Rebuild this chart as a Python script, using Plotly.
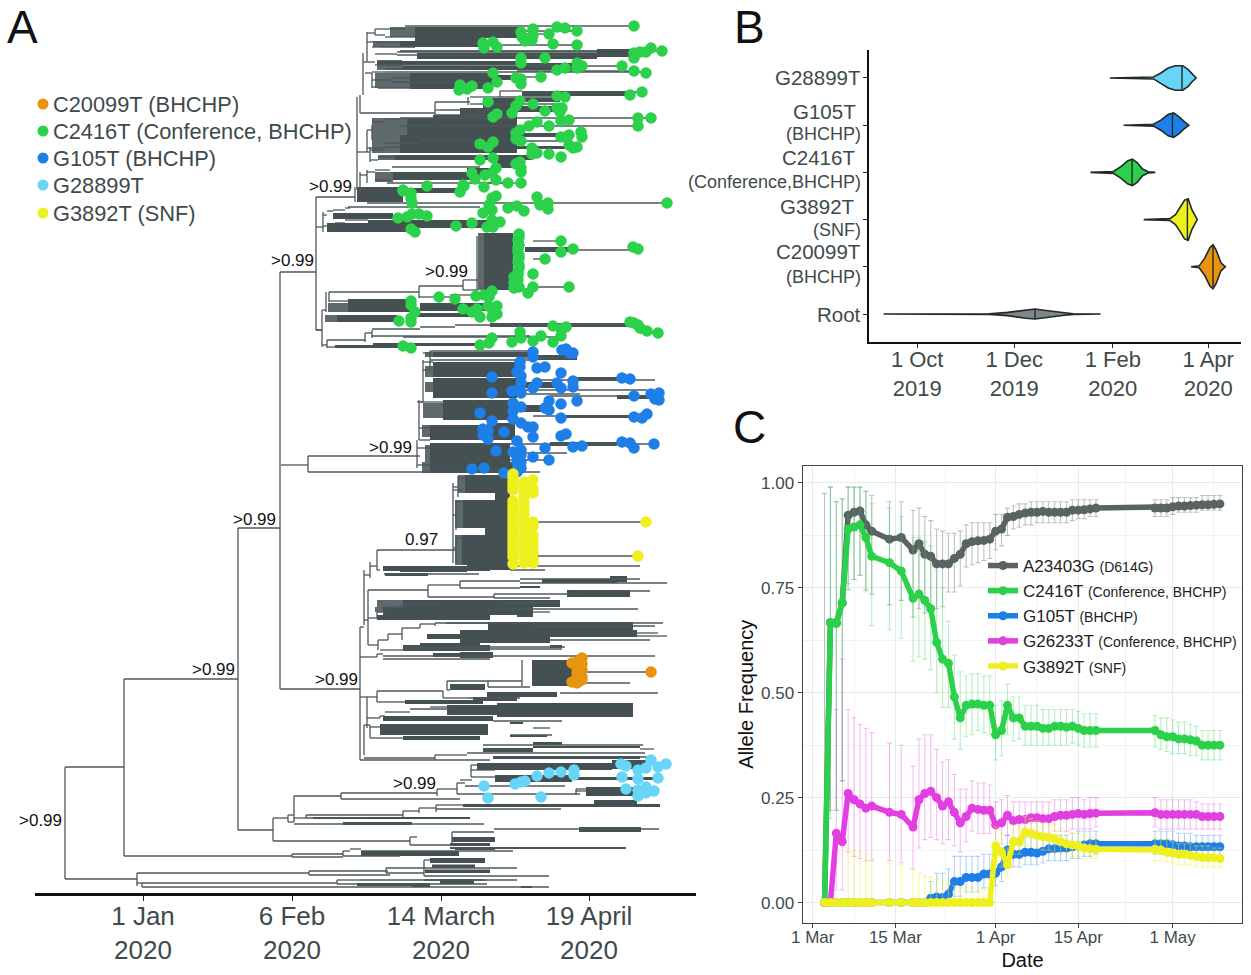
import plotly.graph_objects as go

FONT = "Liberation Sans"
INK = "#3e4a4b"
TREE_LINE = "#4d5759"
TREE_FILL = "#455052"
TREE_FAN = "#5f6a6c"

ORANGE = "#e8940f"
GREEN = "#2bd14a"
BLUE = "#1f7fe8"
CYAN = "#66d5f7"
YELLOW = "#eef01e"
MAGENTA = "#e23fe0"
GREY = "#596363"

# ---- panel A: tree, x = steps along the date axis (about 6 h each), y = tip row
tree_tick_pos = [43, 192, 341, 489]
tree_tick_text = ["1 Jan<br>2020", "6 Feb<br>2020", "14 March<br>2020", "19 April<br>2020"]

h_start = [-35, -35, 24, 24, 138, 138, 180, 180, 216, 216, 181, 208, 208,
           37, 37, 42, 42, 237, 237, 260, 209, 209, 286, 286, 324, 324, 324, 324, 324,
           192, 192, 243, 250, 261, 243, 350,
           173, 310, 310, 173, 188, 194, 241, 241, 337, 357, 360, 357, 476, 476, 371, 371, 371, 365,
           188, 194, 206, 206, 303, 319, 336, 336, 194, 352, 394,
           260, 264, 268, 328, 360, 420, 420, 360, 328, 394, 394, 480,
           268, 277, 285, 300, 310, 400, 400, 433,
           268, 278, 288, 302, 320, 335, 346, 433, 533, 537, 450, 280, 303, 303,
           260, 277, 283, 283,
           347, 388, 388, 347, 277, 343, 367, 277, 460, 473, 482,
           260, 267, 267, 280, 285, 310, 330, 264, 270, 264, 335, 367, 393, 260, 393, 433, 410,
           270, 285, 540, 383,
           277, 270, 264, 277, 410, 410, 433, 433, 284, 353, 353, 358, 353, 356, 353, 356,
           317, 323, 323, 330, 330, 323, 317, 319, 417, 440, 400, 450, 420, 433, 370, 415, 410, 372, 380,
           320, 319, 317, 317,
           267, 275, 305, 275, 285, 267, 272, 272, 280, 263, 275, 297, 297, 275, 278,
           265, 272, 285, 285, 272, 292, 292, 272, 278, 415, 421, 421, 397, 417, 530, 417,
           260, 335, 370, 400, 422, 400, 370, 378, 335, 340, 335,
           267, 272, 285, 300, 300, 267, 285, 320, 257, 270, 285, 270, 278, 417,
           260, 267, 275, 275, 292, 287, 380, 400,
           223, 227, 233, 245, 248, 267, 216, 223, 235, 245,
           222, 229, 229, 319, 319, 363, 363, 350, 216,
           222, 227, 265, 272, 320, 272, 303, 355, 540, 540, 227,
           433, 433, 433, 433]
h_end = [37, 24, 138, 192, 180, 173, 216, 260, 255, 222, 208, 318, 440,
         209, 42, 237, 449, 260, 330, 385, 288, 290, 324, 324, 330, 417, 449, 417, 387,
         243, 243, 250, 261, 413, 300, 526,
         310, 317, 352, 188, 194, 241, 337, 360, 357, 365, 372, 480, 486, 486, 377, 395, 395, 465,
         194, 206, 303, 270, 319, 336, 363, 461, 384, 394, 559,
         264, 268, 328, 360, 420, 540, 567, 420, 394, 480, 450, 550,
         277, 285, 300, 310, 340, 538, 460, 450,
         278, 288, 302, 320, 335, 388, 563, 555, 558, 567, 550, 303, 462, 465,
         277, 283, 555, 390,
         388, 422, 430, 350, 343, 367, 420, 305, 558, 530, 551,
         267, 277, 280, 285, 310, 350, 347, 270, 280, 335, 367, 545, 547, 390, 462, 450, 452,
         285, 303, 554, 543,
         355, 277, 270, 280, 540, 445, 546, 538, 379, 362, 358, 365, 356, 363, 356, 362,
         320, 333, 330, 435, 433, 330, 323, 330, 477, 555, 547, 557, 480, 540, 554, 467, 449, 420, 420,
         345, 330, 330, 330,
         275, 305, 534, 285, 315, 272, 300, 280, 315, 275, 297, 497, 530, 278, 480,
         272, 285, 370, 546, 292, 310, 400, 278, 315, 441, 477, 449, 477, 534, 562, 522,
         335, 370, 400, 422, 542, 460, 378, 465, 340, 445, 390,
         272, 285, 300, 551, 538, 285, 320, 400, 270, 285, 300, 278, 295, 469,
         267, 275, 290, 290, 380, 400, 408, 421,
         227, 233, 245, 250, 380, 567, 223, 235, 245, 268,
         226, 319, 250, 363, 350, 378, 378, 377, 222,
         227, 265, 272, 320, 355, 430, 460, 540, 558, 547, 235,
         461, 533, 445, 469]
h_row = [879, 767, 679, 856, 528, 830, 272, 689, 197, 330, 465, 456, 472,
         873, 883, 883, 887, 880, 884, 880, 871, 875, 868, 873, 860, 868, 876, 880, 884,
         854, 857, 851, 849, 851, 856, 848,
         841, 837, 845, 818, 815, 796, 793, 799, 789, 783, 780, 794, 789, 791, 765, 770, 777, 786,
         822, 818, 815, 818, 811, 808, 805, 809, 824, 832, 829,
         627, 620, 590, 585, 581, 579, 583, 588, 597, 594, 598, 591,
         618, 612, 607, 605, 604, 609, 603, 612,
         645, 640, 634, 628, 624, 623, 623, 626, 633, 636, 640, 650, 649, 647,
         657, 654, 656, 659,
         681, 681, 687, 690, 691, 698, 698, 702, 693, 683, 672,
         697, 697, 718, 716, 712, 709, 707, 725, 727, 758, 755, 753, 757, 760, 721, 728, 735,
         738, 738, 749, 745,
         550, 566, 575, 570, 566, 570, 522, 556, 574, 490, 487, 478, 515, 502, 548, 538,
         456, 362, 353, 351, 360, 370, 402, 440, 358, 380, 390, 396, 394, 416, 444, 453, 460, 469, 437,
         402, 428, 448, 465,
         33, 29, 26, 35, 37, 42, 42, 47, 47, 62, 54, 52, 55, 65, 65,
         73, 72, 69, 72, 80, 78, 82, 87, 88, 77, 31, 34, 45, 71, 51, 66,
         113, 102, 97, 91, 92, 97, 104, 104, 110, 110, 115,
         130, 122, 119, 118, 126, 148, 143, 140, 152, 150, 147, 160, 157, 141,
         175, 172, 170, 180, 167, 183, 183, 183,
         215, 211, 210, 208, 207, 203, 227, 226, 223, 220,
         310, 292, 301, 286, 297, 280, 290, 295, 330,
         345, 340, 333, 329, 327, 336, 337, 325, 333, 331, 347,
         241, 250, 259, 287]

v_pos = [-35, 24, 138, 180, 216, 255, 257, 260, 263, 267, 272, 275,
         37, 42, 237, 209, 286, 324, 192, 243,
         173, 310, 188, 194, 241, 337, 357, 371, 476, 206, 303, 319, 336, 352,
         260, 264, 268, 328, 360, 394,
         277, 278, 288, 302, 320, 335, 277,
         388, 347, 422, 343, 277, 267, 280, 264, 270, 335,
         208, 323, 319, 317, 330,
         277, 353, 358, 356, 356, 270,
         335, 368, 400, 272, 267, 270, 267, 260,
         223, 222, 226, 229, 319, 363, 377, 227, 265, 272]
v_top = [767, 679, 528, 272, 197, 187, 97, 95, 53, 32, 73, 29,
         873, 883, 880, 871, 868, 860, 854, 851,
         818, 837, 815, 796, 793, 789, 783, 765, 789, 815, 811, 808, 805, 832,
         627, 570, 590, 585, 581, 594,
         612, 640, 634, 628, 624, 623, 654,
         681, 681, 660, 691, 691, 697, 716, 725, 725, 755,
         456, 360, 400, 440, 351,
         550, 483, 476, 500, 535, 562,
         102, 97, 91, 125, 130, 147, 170, 172,
         212, 310, 292, 292, 286, 280, 236, 340, 333, 330]
v_bottom = [879, 856, 830, 689, 330, 202, 190, 113, 95, 62, 88, 35,
            886, 887, 884, 875, 873, 876, 857, 856,
            841, 845, 822, 822, 799, 796, 794, 777, 795, 818, 818, 813, 812, 845,
            760, 625, 645, 597, 588, 598,
            618, 650, 640, 640, 628, 626, 657,
            687, 690, 686, 698, 702, 728, 718, 755, 738, 760,
            472, 402, 440, 468, 370,
            570, 563, 497, 530, 563, 578,
            125, 105, 97, 140, 152, 162, 183, 190,
            232, 347, 312, 302, 298, 290, 290, 348, 342, 338]

# dense clades, drawn as solid runs of tips
block_start = [315, 300, 497, 317, 277, 417, 302, 310, 393,
               422, 383, 383, 307, 333, 300, 417, 390, 295, 397,
               293, 367, 257, 303, 233, 268, 227, 384, 425, 248, 320, 237, 310, 390, 235, 273,
               333, 433, 333, 333, 421, 473, 517, 343, 420, 463, 330, 330, 450, 330,
               365, 363, 362, 300, 367, 395, 385,
               283, 285, 442, 510, 420, 467, 303, 283, 277, 417, 388, 360, 360, 303, 450, 360, 333,
               432, 350, 387, 373, 305, 347, 397, 283, 280, 410, 303, 410, 433, 383, 433, 393,
               377, 512, 395, 472, 486, 494, 363, 461, 213, 243, 352, 350, 355, 479, 261, 350, 330, 332, 325, 257, 312, 340, 421,
               360, 383, 333, 387,
               333, 333, 343, 343, 330, 387, 330, 283, 327, 320, 315]
block_end = [418, 383, 530, 497, 417, 477, 477, 393, 416,
             527, 460, 457, 417, 390, 417, 457, 470, 433, 417,
             370, 397, 303, 360, 293, 387, 307, 413, 473, 310, 387, 297, 383, 527, 300, 377,
             430, 477, 417, 417, 457, 517, 557, 413, 447, 533, 387, 410, 517, 413,
             410, 410, 410, 367, 410, 410, 410,
             390, 328, 517, 527, 440, 530, 460, 417, 390, 433, 533, 537, 450, 390, 462, 393, 360,
             473, 385, 457, 417, 383, 397, 533, 393, 388, 423, 380, 447, 462, 433, 540, 540,
             512, 548, 472, 559, 537, 537, 461, 560, 370, 312, 395, 390, 395, 541, 359, 526, 385, 375, 390, 330, 330, 374, 432,
             417, 417, 417, 415,
             417, 417, 413, 413, 415, 415, 410, 417, 360, 380, 383]
block_top = [27, 41, 49, 53, 61, 63, 66, 73, 75,
             91, 98, 106, 118, 115, 135, 133, 146, 155, 160,
             172, 168, 187, 188, 213, 220, 223, 233, 247, 299, 303, 315, 313, 323, 345, 343,
             352, 355, 366, 382, 382, 377, 395, 403, 405, 415, 425, 445, 442, 462,
             475, 500, 535, 567, 565, 493, 528,
             566, 573, 579, 576, 586, 590, 600, 607, 615, 607, 622, 630, 637, 645, 645, 652, 653,
             660, 684, 692, 697, 700, 705, 703, 716, 724, 722, 736, 735, 742, 748, 746, 756,
             763, 760, 775, 777, 787, 800, 804, 804, 817, 822, 837, 843, 847, 827, 851, 847, 858, 864.5, 869.5, 883, 883, 879, 886,
             108, 98, 378, 423,
             362, 392, 400, 418, 437, 432, 443, 612, 634, 643, 38]
block_bottom = [38, 47, 57, 59, 65, 67, 70, 89, 80,
                96, 102, 112, 135, 120, 153, 137, 149, 160, 168,
                180, 176, 202, 193, 219, 228, 232, 290, 252, 312, 311, 322, 317, 327, 348, 346,
                357, 360, 377, 392, 388, 381, 399, 418, 412, 418, 437, 462, 446, 473,
                493, 528, 565, 572, 570, 500, 535,
                571, 576, 583, 582, 588, 597, 607, 612, 620, 617, 632, 637, 643, 651, 648, 658, 657,
                686, 690, 697, 701, 704, 715, 717, 721, 735, 724, 740, 737, 745, 752, 748, 759,
                770, 769, 782, 780, 796, 804, 807, 807, 819, 825, 842, 846, 850, 832, 856, 849, 863, 868, 873, 886, 887, 884, 888,
                118, 108, 382, 432,
                366, 398, 403, 420, 440, 437, 445, 615, 639, 645, 41]

# left edges of the clades, where tips fan out and white shows between them
fan_start = [290, 273, 277, 275, 272, 272, 278, 275, 228, 225, 325, 325, 325, 323, 322, 325, 322,
             358, 355, 355, 277, 275, 378, 300]
fan_end = [315, 300, 302, 310, 307, 300, 295, 293, 248, 237, 333, 333, 333, 343, 330, 330, 330,
           365, 363, 362, 303, 283, 384, 497]
fan_top = [27, 41, 60, 73, 118, 135, 155, 172, 303, 315, 352, 366, 382, 403, 425, 445, 462,
           475, 500, 535, 600, 607, 233, 50]
fan_bottom = [37, 47, 70, 88, 135, 153, 160, 182, 312, 322, 357, 377, 392, 418, 437, 462, 473,
              493, 528, 565, 607, 612, 290, 52]

green_pos = [534, 457, 465, 477, 449, 421, 422, 425, 433, 433, 432,
             453, 477, 383, 384, 393, 397,
             562, 551, 546, 540, 534, 534,
             421, 421, 445, 522, 477, 482, 477, 457, 465, 534, 546,
             393, 397, 441, 416, 421, 421,
             360, 359, 367, 372, 388,
             542, 530, 457, 465, 388, 420, 416, 433, 445, 457, 462, 460, 412, 397, 393,
             538, 551, 538, 461, 469, 449, 437, 429, 420, 416,
             481, 482, 469, 461, 416, 421, 380, 393, 388,
             469, 477, 473, 432, 432, 437, 449, 461, 380, 393,
             420, 416, 421, 421,
             396, 392, 372, 385, 375, 396, 408, 421, 363, 384, 303, 327,
             303, 311, 311, 312, 360, 364,
             392, 396, 389, 383, 392, 437, 440, 448, 448, 408, 417, 424, 567,
             298, 307, 312, 319, 327, 400, 392, 372, 356, 387, 393, 311, 315,
             419, 418, 419, 418, 419, 419, 418, 414, 418, 414, 419, 419, 418, 419, 418, 419, 418, 414,
             461, 461, 473, 533, 538, 445, 433, 433, 428, 469,
             339, 355, 376, 384, 392, 389,
             311, 311, 315, 311, 311, 299,
             363, 372, 377, 380, 388, 397, 393, 392, 397,
             530, 534, 538, 540, 547, 558, 453, 461, 466, 461, 420, 421, 441, 433, 412, 453, 392, 389, 380, 303, 311]
green_row = [26, 27, 28, 31, 34, 32, 37, 41, 29, 35, 40,
             44, 45, 43, 48, 42, 47,
             51, 48, 52, 52, 53, 58,
             58, 63, 58, 66, 63, 66, 68, 70, 68, 71, 73,
             73, 82, 77, 78, 79, 84,
             85, 90, 89, 86, 88,
             92, 95, 96, 97, 102, 101, 106, 104, 111, 108, 108, 112, 113, 114, 117,
             118, 118, 126, 121, 120, 126, 122, 126, 130, 133,
             132, 137, 135, 137, 139, 141, 144, 142, 147,
             145, 147, 148, 148, 154, 153, 154, 157, 160, 158,
             162, 164, 168, 172,
             168, 173, 173, 175, 179, 180, 183, 183, 185, 187, 190, 186,
             191, 193, 198, 203, 192, 186,
             198, 196, 205, 213, 210, 197, 205, 203, 209, 208, 206, 211, 203,
             218, 217, 214, 214, 216, 222, 220, 223, 226, 227, 227, 229, 232,
             234, 240, 245, 252, 258, 265, 272, 277, 280, 288, 287, 237, 248, 255, 262, 268, 275, 283,
             241, 252, 249, 247, 249, 259, 274, 287, 293, 287,
             297, 299, 296, 295, 291, 297,
             301, 305, 312, 318, 322, 321,
             309, 312, 309, 317, 306, 306, 312, 317, 314,
             322, 323, 325, 328, 331, 333, 326, 329, 327, 336, 332, 338, 336, 341, 342, 342, 338, 343, 345, 346, 348]

blue_pos = [433, 433, 462, 466, 470, 473,
            420, 420, 417, 421, 437, 445, 461, 392,
            421, 420, 421, 412, 392, 433, 437, 457, 461, 473, 473, 522, 530,
            534, 551, 559, 555, 559, 477, 461, 449, 445, 449,
            413, 421, 413, 380, 461, 534, 542, 547,
            392, 413, 421, 428, 433, 404, 383, 388, 383, 388, 433, 461, 466, 417,
            522, 530, 534, 554, 482, 473, 445, 396, 413, 421, 417, 421, 433, 449, 417, 421, 372, 384, 404, 421, 417]
blue_row = [352, 357, 350, 349, 353, 353,
            362, 367, 372, 376, 368, 367, 373, 377,
            383, 388, 393, 391, 393, 388, 383, 383, 388, 381, 387, 378, 379,
            396, 394, 393, 399, 400, 401, 404, 401, 408, 410,
            403, 407, 411, 413, 418, 417, 418, 414,
            421, 419, 423, 427, 427, 432, 429, 431, 435, 439, 437, 436, 434, 441,
            442, 443, 448, 444, 446, 447, 448, 451, 452, 450, 457, 455, 457, 460, 463, 462, 469, 468, 473, 468, 472]

yellow_pos = [413, 413, 413, 413, 413, 413, 413, 413, 413, 413, 413, 413, 413, 413, 413, 413, 413, 413, 413, 413, 413,
              424, 424, 424, 424, 424, 424, 424, 424, 424, 424, 424, 424, 424, 424, 424,
              433, 433, 433, 433, 433, 433, 433, 433, 433, 433, 433,
              546, 538]
yellow_row = [474, 478, 482, 486, 490, 501, 505, 509, 513, 517, 521, 525, 529, 533, 537, 541, 545, 549, 553, 557, 564,
              482, 487, 492, 497, 503, 509, 515, 521, 527, 533, 539, 545, 551, 557, 563,
              480, 489, 493, 522, 526, 535, 541, 547, 553, 559, 563,
              522, 556]

orange_pos = [482, 477, 472, 482, 477, 482, 477, 482, 477, 472, 477, 482, 551]
orange_row = [658, 662, 663, 664, 668, 670, 673, 677, 678, 682, 683, 680, 672]

cyan_pos = [551, 566, 521, 526, 538, 546, 558, 474, 474, 461, 449, 437, 522, 538, 558,
            425, 421, 415, 384, 526, 538, 546, 554, 546, 538, 388, 441, 542]
cyan_row = [760, 764, 764, 766, 770, 768, 767, 770, 775, 772, 773, 776, 777, 779, 778,
            781, 782, 784, 786, 789, 790, 787, 791, 793, 796, 798, 797, 792]

node_text = [">0.99", ">0.99", ">0.99", ">0.99", ">0.99", "0.97", ">0.99", ">0.99", ">0.99", ">0.99"]
node_pos = [230, 192, 346, 290, 154, 321, 113, 236, 314, -60]
node_row = [186, 260, 271, 447, 519, 539, 669, 679, 783, 820]

mutation_names = ["C20099T (BHCHP)", "C2416T (Conference, BHCHP)", "G105T (BHCHP)", "G28899T", "G3892T (SNF)"]
mutation_colors = [ORANGE, GREEN, BLUE, CYAN, YELLOW]
mutation_key_pos = [-57, -57, -57, -57, -57]
mutation_key_row = [104, 131, 158, 185, 213]

# ---- panel B: dated violins, x = days since 1 Jan 2020
violin_tick_pos = [-92, -31, 31, 91]
violin_tick_text = ["1 Oct<br>2019", "1 Dec<br>2019", "1 Feb<br>2020", "1 Apr<br>2020"]
violin_slots = [5, 4, 3, 2, 1, 0]
violin_colors = [CYAN, BLUE, GREEN, YELLOW, ORANGE, "#7d8888"]
violin_days = [
    [29.1, 56.6, 61.2, 65.8, 70.4, 75.0, 78.4, 80.7, 83.4],
    [37.8, 56.6, 61.2, 65.8, 69.2, 72.7, 76.1, 78.8],
    [16.9, 31.4, 36.0, 40.5, 43.3, 46.3, 49.7, 53.2, 57.7],
    [50.4, 66.9, 70.4, 73.8, 76.1, 78.4, 80.7, 84.1],
    [80.2, 85.3, 88.7, 92.1, 94.0, 96.0, 99.0, 101.8],
    [-113.1, -46.6, -35.1, -23.7, -17.9, -9.9, -0.7, 6.1, 23.3],
]
violin_half = [
    [0, 0.02, 0.106, 0.21, 0.26, 0.26, 0.177, 0.085, 0],
    [0, 0.02, 0.106, 0.226, 0.26, 0.177, 0.07, 0],
    [0, 0.02, 0.12, 0.247, 0.28, 0.21, 0.07, 0.014, 0],
    [0, 0.02, 0.106, 0.28, 0.41, 0.44, 0.21, 0],
    [0, 0.02, 0.177, 0.41, 0.466, 0.353, 0.085, 0],
    [0, 0.007, 0.035, 0.09, 0.106, 0.07, 0.03, 0.007, 0],
]
violin_median = [74.5, 68.5, 43.1, 77.9, 94.0, -17.9]
violin_median_half = [0.25, 0.25, 0.27, 0.43, 0.46, 0.1]

violin_label_text = ["G28899T", "G105T", "(BHCHP)", "C2416T", "(Conference,BHCHP)", "G3892T", "(SNF)", "C20099T", "(BHCHP)", "Root"]
violin_label_y = [5.0, 4.30, 3.81, 3.31, 2.805, 2.27, 1.78, 1.32, 0.784, 0]
violin_label_size = [20.5, 20.5, 18, 20.5, 18, 20.5, 18, 20.5, 18, 20.5]
violin_label_shift = [0, -5, 0, -6, 0, -6, 0, 0, 0, 0]

# ---- panel C: allele frequency, x = days since 1 Mar 2020
freq_tick_pos = [0, 14, 31, 45, 61]
freq_tick_text = ["1 Mar", "15 Mar", "1 Apr", "15 Apr", "1 May"]
freq_days = [2, 3, 4, 5, 6, 7, 8, 9, 10,
             13, 15,
             17, 18, 19, 20, 21, 22, 23, 24, 25, 26, 27, 28, 29, 30, 31, 32,
             33, 34, 35, 36, 37, 38, 39, 40, 41, 42, 43, 44, 45, 46, 47, 48,
             58, 59, 60, 61, 62, 63, 64, 65, 66, 67, 68, 69]

a23403g = [0, .667, .667, .714, .923, .93, .933, .90, .885,
           .866, .87,
           .84, .855, .83, .825, .807, .807, .807, .82, .83, .855, .86, .862, .863, .866, .885, .89,
           .918, .92, .925, .928, .93, .93, .932, .93, .93, .93, .93, .935, .935, .936, .938, .94,
           .94, .94, .94, .943, .945, .945, .946, .947, .948, .948, .949, .95]
a23403g_hi = [.975, .99, .955, .963, .99, .99, .99, .98, .97,
              .955, .955,
              .935, .94, .92, .91, .89, .885, .88, .88, .885, .90, .905, .905, .905, .905, .925, .925,
              .94, .945, .95, .95, .955, .955, .955, .955, .955, .955, .955, .96, .96, .96, .96, .96,
              .96, .96, .96, .965, .965, .965, .965, .965, .97, .97, .97, .97]
a23403g_lo = [0, .22, .22, .29, .745, .77, .78, .745, .735,
              .71, .72,
              .68, .70, .69, .70, .70, .705, .74, .74, .755, .80, .805, .81, .815, .82, .84, .85,
              .875, .89, .895, .90, .90, .905, .905, .905, .905, .905, .905, .91, .915, .915, .92, .92,
              .92, .92, .92, .925, .93, .93, .93, .93, .935, .935, .935, .935]

c2416t = [0, .667, .665, .714, .89, .895, .90, .87, .825,
          .81, .79,
          .725, .735, .72, .70, .62, .58, .57, .49, .44, .47, .473, .473, .47, .47, .40, .41,
          .47, .44, .44, .42, .42, .42, .415, .415, .42, .42, .418, .42, .415, .41, .41, .41,
          .41, .40, .395, .395, .39, .39, .388, .385, .375, .375, .375, .375]
c2416t_hi = [0, .99, .955, .96, .99, .99, .99, .98, .95,
             .94, .92,
             .87, .87, .86, .85, .79, .75, .67, .59, .55, .54, .545, .545, .54, .54, .47, .48,
             .52, .49, .49, .47, .47, .47, .46, .46, .46, .46, .46, .46, .455, .45, .45, .45,
             .445, .44, .44, .435, .43, .43, .425, .42, .41, .41, .41, .41]
c2416t_lo = [0, .20, .22, .29, .76, .77, .78, .74, .66,
             .65, .63,
             .575, .585, .58, .555, .50, .465, .465, .39, .365, .395, .40, .41, .405, .40, .34, .35,
             .40, .385, .39, .375, .375, .375, .375, .375, .375, .375, .375, .38, .375, .37, .37, .37,
             .37, .365, .36, .355, .355, .355, .35, .35, .34, .34, .34, .34]

g105t = [0, 0, 0, 0, 0, 0, 0, 0, 0,
         0, 0,
         0, 0, 0, .01, .013, .012, .02, .05, .05, .06, .06, .06, .068, .068, .07, .085,
         .125, .115, .115, .12, .12, .118, .122, .128, .128, .13, .13, .133, .135, .137, .14, .14,
         .14, .14, .14, .138, .135, .135, .133, .133, .133, .133, .133, .133]
g105t_hi = [0, 0, 0, 0, 0, 0, 0, 0, 0,
            0, 0,
            0, 0, 0, .05, .07, .07, .08, .11, .11, .11, .11, .11, .115, .115, .115, .13,
            .16, .15, .15, .155, .155, .155, .155, .16, .16, .16, .16, .165, .17, .17, .17, .17,
            .17, .17, .17, .17, .165, .165, .165, .16, .16, .16, .16, .16]
g105t_lo = [0, 0, 0, 0, 0, 0, 0, 0, 0,
            0, 0,
            0, 0, 0, 0, 0, 0, 0, .015, .015, .025, .025, .025, .035, .035, .04, .05,
            .09, .085, .085, .09, .09, .09, .095, .10, .10, .10, .10, .105, .105, .11, .11, .115,
            .115, .115, .115, .11, .11, .11, .105, .105, .105, .105, .105, .105]

g26233t = [0, 0, .165, .145, .26, .245, .235, .225, .23,
           .215, .21,
           .18, .245, .26, .265, .25, .23, .24, .215, .19, .205, .225, .222, .22, .22, .185, .19,
           .208, .195, .198, .198, .202, .202, .20, .20, .205, .208, .208, .21, .212, .21, .212, .213,
           .214, .21, .21, .21, .21, .21, .21, .21, .205, .205, .205, .205]
g26233t_hi = [0, 0, .46, .58, .46, .44, .425, .415, .405,
              .38, .375,
              .325, .39, .40, .40, .365, .335, .34, .305, .27, .27, .29, .285, .285, .28, .24, .245,
              .255, .24, .24, .24, .24, .24, .24, .24, .245, .245, .245, .25, .25, .245, .25, .25,
              .25, .245, .245, .245, .245, .245, .245, .24, .235, .235, .235, .235]
g26233t_lo = [0, 0, .03, .03, .12, .11, .105, .10, .10,
              .10, .095,
              .08, .13, .15, .155, .15, .14, .15, .135, .12, .145, .17, .165, .165, .165, .135, .14,
              .16, .155, .155, .16, .165, .165, .165, .165, .17, .17, .17, .175, .175, .175, .175, .18,
              .18, .175, .175, .175, .175, .175, .175, .175, .175, .175, .175, .175]

g3892t = [0, 0, 0, 0, 0, 0, 0, 0, 0,
          0, 0,
          0, 0, 0, 0, 0, 0, 0, 0, 0, 0, 0, 0, 0, 0, .135, .12,
          .09, .145, .145, .168, .165, .16, .157, .155, .152, .145, .14, .137, .135, .13, .128, .127,
          .127, .125, .12, .118, .115, .115, .112, .11, .108, .107, .107, .105]
g3892t_hi = [0, 0, 0, 0, .13, .125, .12, .115, .105,
             .095, .09,
             .08, .07, .065, .06, .055, .05, .045, .04, .035, .035, .035, .03, .03, .03, .18, .165,
             .13, .185, .185, .205, .20, .195, .19, .185, .185, .175, .17, .165, .165, .16, .155, .155,
             .155, .15, .15, .145, .14, .14, .14, .135, .135, .135, .13, .13]
g3892t_lo = [0, 0, 0, 0, 0, 0, 0, 0, 0,
             0, 0,
             0, 0, 0, 0, 0, 0, 0, 0, 0, 0, 0, 0, 0, 0, .10, .085,
             .06, .115, .115, .135, .135, .13, .125, .125, .12, .115, .115, .11, .11, .105, .105, .105,
             .10, .10, .098, .095, .09, .09, .09, .085, .085, .085, .085, .085]

freq_series = [
    ('A23403G <span style="font-size:14px">(D614G)</span>', a23403g, a23403g_hi, a23403g_lo, GREY, "rgba(89,99,99,0.40)"),
    ('C2416T <span style="font-size:14px">(Conference, BHCHP)</span>', c2416t, c2416t_hi, c2416t_lo, GREEN, "rgba(43,209,74,0.35)"),
    ('G105T <span style="font-size:14px">(BHCHP)</span>', g105t, g105t_hi, g105t_lo, BLUE, "rgba(31,127,232,0.35)"),
    ('G26233T <span style="font-size:14px">(Conference, BHCHP)</span>', g26233t, g26233t_hi, g26233t_lo, MAGENTA, "rgba(226,63,224,0.35)"),
    ('G3892T <span style="font-size:14px">(SNF)</span>', g3892t, g3892t_hi, g3892t_lo, YELLOW, "rgba(238,240,30,0.45)"),
]

for a, b in [(h_start, h_end), (h_start, h_row), (v_pos, v_top), (v_pos, v_bottom),
             (block_start, block_end), (block_start, block_top), (block_start, block_bottom),
             (fan_start, fan_end), (fan_start, fan_top), (fan_start, fan_bottom),
             (green_pos, green_row), (blue_pos, blue_row), (yellow_pos, yellow_row),
             (orange_pos, orange_row), (cyan_pos, cyan_row)]:
    assert len(a) == len(b), (len(a), len(b))
for s in freq_series:
    assert len(s[1]) == len(s[2]) == len(s[3]) == len(freq_days), s[0]

WIDTH, HEIGHT = 1251, 975


def xdom(left, right):
    return [left / WIDTH, right / WIDTH]


def ydom(top, bottom):
    return [1 - bottom / HEIGHT, 1 - top / HEIGHT]


fig = go.Figure()

# tree branches
line_x, line_y = [], []
for start, end, row in zip(h_start, h_end, h_row):
    line_x += [start, end, None]
    line_y += [row, row, None]
for pos, top, bottom in zip(v_pos, v_top, v_bottom):
    line_x += [pos, pos, None]
    line_y += [top, bottom, None]
fig.add_trace(go.Scatter(x=line_x, y=line_y, mode="lines", showlegend=False,
                         line=dict(color=TREE_LINE, width=1.3), hoverinfo="skip"))

for starts, ends, tops, bottoms, colour in [(fan_start, fan_end, fan_top, fan_bottom, TREE_FAN),
                                            (block_start, block_end, block_top, block_bottom, TREE_FILL)]:
    fig.add_trace(go.Bar(
        base=starts,
        x=[e - s for s, e in zip(starts, ends)],
        y=[(t + b) / 2 for t, b in zip(tops, bottoms)],
        width=[b - t for t, b in zip(tops, bottoms)],
        orientation="h",
        marker=dict(color=colour, line_width=0),
        showlegend=False,
        hoverinfo="skip",
    ))

for xs, ys, colour in [(green_pos, green_row, GREEN), (blue_pos, blue_row, BLUE),
                       (cyan_pos, cyan_row, CYAN), (orange_pos, orange_row, ORANGE),
                       (yellow_pos, yellow_row, YELLOW)]:
    fig.add_trace(go.Scatter(x=xs, y=ys, mode="markers", showlegend=False,
                             marker=dict(color=colour, size=11.5), hoverinfo="skip"))

fig.add_trace(go.Scatter(x=mutation_key_pos, y=mutation_key_row, mode="markers", showlegend=False,
                         marker=dict(color=mutation_colors, size=11), hoverinfo="skip"))

# violins
for slot, colour, days, half, med, med_half in zip(violin_slots, violin_colors, violin_days,
                                                   violin_half, violin_median, violin_median_half):
    upper = [slot + h for h in half]
    lower = [slot - h for h in half]
    fig.add_trace(go.Scatter(x=days + days[::-1], y=upper + lower[::-1], mode="lines", fill="toself",
                             fillcolor=colour, line=dict(color="#20292a", width=1.6), showlegend=False,
                             xaxis="x2", yaxis="y2", hoverinfo="skip"))
    fig.add_trace(go.Scatter(x=[med, med], y=[slot - med_half, slot + med_half], mode="lines",
                             line=dict(color="#20292a", width=1.4), showlegend=False,
                             xaxis="x2", yaxis="y2", hoverinfo="skip"))

# allele frequency lines
for name, values, hi, lo, colour, bar_colour in freq_series:
    fig.add_trace(go.Scatter(
        x=freq_days, y=values, mode="lines+markers", name=name,
        line=dict(color=colour, width=5.5),
        marker=dict(color=colour, size=9),
        error_y=dict(type="data", symmetric=False,
                     array=[h - v for h, v in zip(hi, values)],
                     arrayminus=[v - l for v, l in zip(values, lo)],
                     color=bar_colour, thickness=1.1, width=2.5),
        xaxis="x3", yaxis="y3", hoverinfo="skip",
    ))

annotations = []
for text, x, y in [("A", 22, 27), ("B", 749, 27), ("C", 749, 427)]:
    annotations.append(dict(text=text, xref="paper", yref="paper", x=x / WIDTH, y=1 - y / HEIGHT,
                            showarrow=False, font=dict(size=46, color="#111", family=FONT),
                            xanchor="center", yanchor="middle"))
for text, pos, row in zip(node_text, node_pos, node_row):
    annotations.append(dict(text=text, x=pos, y=row, xref="x", yref="y", showarrow=False,
                            font=dict(size=17, color="#111", family=FONT)))
for text, pos, row in zip(mutation_names, mutation_key_pos, mutation_key_row):
    annotations.append(dict(text=text, x=pos + 7.5, y=row, xref="x", yref="y", showarrow=False,
                            xanchor="left", font=dict(size=21.8, color=INK, family=FONT)))
for text, y, size, shift in zip(violin_label_text, violin_label_y, violin_label_size, violin_label_shift):
    annotations.append(dict(text=text, x=863 / WIDTH, y=y, xref="paper", yref="y2", showarrow=False,
                            xanchor="right", xshift=shift, font=dict(size=size, color=INK, family=FONT)))

fig.update_layout(
    width=WIDTH,
    height=HEIGHT,
    margin=dict(l=0, r=0, t=0, b=0),
    paper_bgcolor="white",
    plot_bgcolor="white",
    barmode="overlay",
    font=dict(family=FONT, color=INK),
    annotations=annotations,
    legend=dict(x=983 / WIDTH, y=1 - 548 / HEIGHT, xanchor="left", yanchor="top",
                bgcolor="rgba(0,0,0,0)", font=dict(size=17, color="#222", family=FONT),
                tracegroupgap=0),
    xaxis=dict(domain=xdom(35, 696), range=[-65, 596], anchor="y", showgrid=False, zeroline=False,
               automargin=False,
               tickvals=tree_tick_pos, ticktext=tree_tick_text, ticks="outside", ticklen=5, tickwidth=1.3,
               ticklabelstandoff=-7,
               tickcolor="#222", showline=True, linecolor="#111", linewidth=2.5,
               tickfont=dict(size=26, color=INK, family=FONT)),
    yaxis=dict(domain=ydom(20, 893), range=[893, 20], anchor="x", visible=False, automargin=False),
    xaxis2=dict(domain=xdom(869, 1241), range=[-122.3, 111.6], anchor="y2", showgrid=False, zeroline=False,
                automargin=False,
                tickvals=violin_tick_pos, ticktext=violin_tick_text, ticks="outside", ticklen=4, tickwidth=1.3,
                ticklabelstandoff=-7,
                tickcolor="#222", showline=True, linecolor="#111", linewidth=2,
                tickfont=dict(size=22, color=INK, family=FONT)),
    yaxis2=dict(domain=ydom(50, 342), range=[-0.593, 5.593], anchor="x2", showgrid=False, zeroline=False,
                automargin=False,
                tickvals=violin_slots, ticktext=[""] * 6, ticks="outside", ticklen=4, tickwidth=1.3,
                tickcolor="#222", showline=True, linecolor="#111", linewidth=2),
    xaxis3=dict(domain=xdom(802.7, 1242.3), range=[-1.7, 72.8], anchor="y3", zeroline=False,
                automargin=False,
                tickvals=freq_tick_pos, ticktext=freq_tick_text, ticks="outside", ticklen=4,
                ticklabelstandoff=-5,
                tickcolor="#444", showline=True, mirror=True, linecolor="#444", linewidth=1.3,
                showgrid=True, gridcolor="#e3ede8", gridwidth=1,
                minor=dict(tickvals=[7, 22.5, 38, 53, 68], showgrid=True, gridcolor="#eff5f2", ticks=""),
                tickfont=dict(size=17, color=INK, family=FONT),
                title=dict(text="Date", standoff=6, font=dict(size=20, color="#111", family=FONT))),
    yaxis3=dict(domain=ydom(465.7, 922.7), range=[-0.048, 1.041], anchor="x3", zeroline=False,
                automargin=False,
                tickvals=[0, 0.25, 0.5, 0.75, 1], ticktext=["0.00", "0.25", "0.50", "0.75", "1.00"],
                ticks="outside", ticklen=4, tickcolor="#444", showline=True, mirror=True,
                linecolor="#444", linewidth=1.3, showgrid=True, gridcolor="#e3ede8", gridwidth=1,
                minor=dict(tickvals=[0.125, 0.375, 0.625, 0.875], showgrid=True, gridcolor="#eff5f2", ticks=""),
                tickfont=dict(size=17, color=INK, family=FONT),
                title=dict(text="Allele Frequency", standoff=2, font=dict(size=20, color="#111", family=FONT))),
)

fig.write_html("out.html", config={"displayModeBar": False}, post_script="document.body.style.margin='0';")
